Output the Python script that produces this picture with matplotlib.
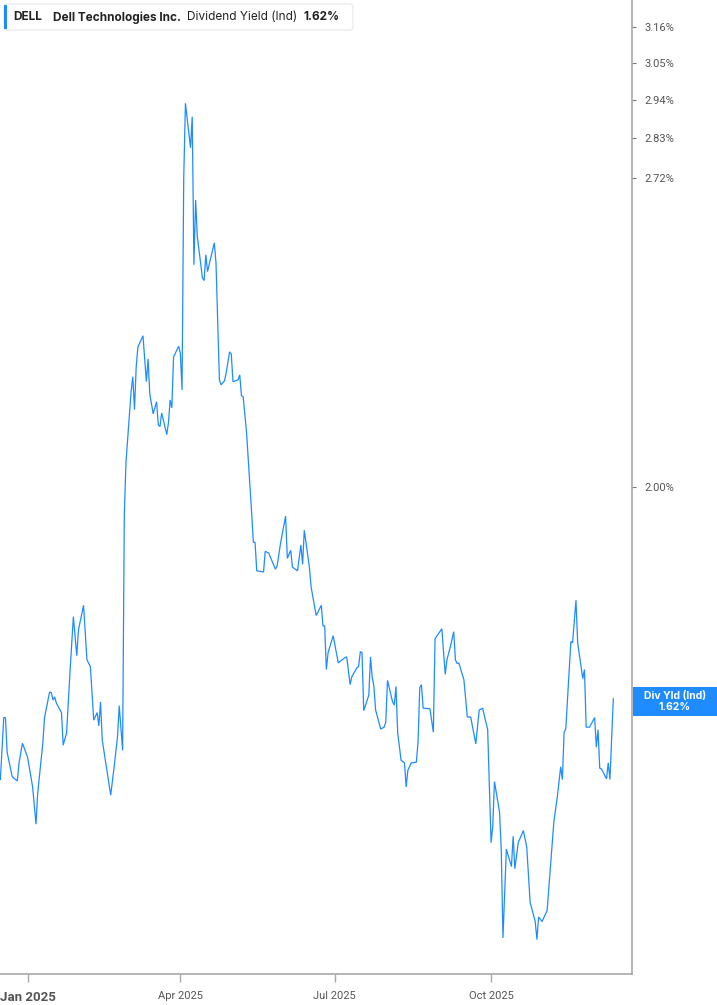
import numpy as np
import pandas as pd
import matplotlib
matplotlib.use('Agg')
import matplotlib.pyplot as plt
from matplotlib.ticker import FixedLocator, FuncFormatter, NullLocator
from matplotlib.patches import FancyBboxPatch, Rectangle

TICKER = "DELL"
COMPANY = "Dell Technologies Inc."
METRIC = "Dividend Yield (Ind)"
LAST_VALUE = 1.62
BADGE_TITLE = "Div Yld (Ind)"

# daily dividend yield (%)
dates = [
    "2024-12-16", "2024-12-18", "2024-12-19", "2024-12-20", "2024-12-23", "2024-12-26", "2024-12-27", "2024-12-29",
    "2025-01-01", "2025-01-04", "2025-01-06", "2025-01-07", "2025-01-10", "2025-01-11", "2025-01-14", "2025-01-15",
    "2025-01-16", "2025-01-17", "2025-01-18", "2025-01-21", "2025-01-22", "2025-01-24", "2025-01-26", "2025-01-28",
    "2025-01-30", "2025-01-31",
    "2025-02-03", "2025-02-05", "2025-02-07", "2025-02-09", "2025-02-11", "2025-02-12", "2025-02-13", "2025-02-14",
    "2025-02-19", "2025-02-21", "2025-02-23", "2025-02-24", "2025-02-26", "2025-02-27", "2025-02-28",
    "2025-03-03", "2025-03-04", "2025-03-05", "2025-03-06", "2025-03-07", "2025-03-10", "2025-03-12", "2025-03-13",
    "2025-03-14", "2025-03-16", "2025-03-18", "2025-03-19", "2025-03-20", "2025-03-21", "2025-03-24", "2025-03-25",
    "2025-03-26", "2025-03-27", "2025-03-28", "2025-03-31",
    "2025-04-01", "2025-04-02", "2025-04-03", "2025-04-04", "2025-04-07", "2025-04-08", "2025-04-09", "2025-04-10",
    "2025-04-11", "2025-04-14", "2025-04-15", "2025-04-16", "2025-04-17", "2025-04-21", "2025-04-22", "2025-04-24",
    "2025-04-25", "2025-04-27", "2025-04-28", "2025-04-30",
    "2025-05-01", "2025-05-02", "2025-05-05", "2025-05-06", "2025-05-07", "2025-05-08", "2025-05-10", "2025-05-13",
    "2025-05-14", "2025-05-15", "2025-05-16", "2025-05-20", "2025-05-21", "2025-05-23", "2025-05-27", "2025-05-28",
    "2025-05-30",
    "2025-06-02", "2025-06-03", "2025-06-05", "2025-06-06", "2025-06-09", "2025-06-11", "2025-06-12", "2025-06-13",
    "2025-06-16", "2025-06-17", "2025-06-20", "2025-06-23", "2025-06-24", "2025-06-25", "2025-06-26", "2025-06-27",
    "2025-06-30",
    "2025-07-03", "2025-07-07", "2025-07-08", "2025-07-10", "2025-07-11", "2025-07-14", "2025-07-15", "2025-07-16",
    "2025-07-17", "2025-07-18", "2025-07-21", "2025-07-22", "2025-07-23", "2025-07-24", "2025-07-25", "2025-07-28",
    "2025-07-30", "2025-07-31",
    "2025-08-01", "2025-08-04", "2025-08-05", "2025-08-06", "2025-08-07", "2025-08-09", "2025-08-11", "2025-08-12",
    "2025-08-13", "2025-08-15", "2025-08-18", "2025-08-19", "2025-08-20", "2025-08-21", "2025-08-22", "2025-08-26",
    "2025-08-28", "2025-08-29",
    "2025-09-02", "2025-09-04", "2025-09-05", "2025-09-07", "2025-09-09", "2025-09-10", "2025-09-11", "2025-09-12",
    "2025-09-15", "2025-09-17", "2025-09-19", "2025-09-22", "2025-09-24", "2025-09-26", "2025-09-29",
    "2025-10-01", "2025-10-02", "2025-10-03", "2025-10-06", "2025-10-07", "2025-10-08", "2025-10-10", "2025-10-13",
    "2025-10-14", "2025-10-15", "2025-10-17", "2025-10-20", "2025-10-22", "2025-10-24", "2025-10-27", "2025-10-28",
    "2025-10-29", "2025-10-31",
    "2025-11-03", "2025-11-05", "2025-11-07", "2025-11-09", "2025-11-11", "2025-11-12", "2025-11-13", "2025-11-14",
    "2025-11-17", "2025-11-18", "2025-11-20", "2025-11-21", "2025-11-24", "2025-11-25", "2025-11-26", "2025-11-28",
    "2025-12-01", "2025-12-02", "2025-12-03", "2025-12-04", "2025-12-05", "2025-12-08", "2025-12-09", "2025-12-10",
    "2025-12-12",
]
yield_pct = [
    1.495, 1.590, 1.590, 1.536, 1.499, 1.493, 1.520, 1.550,
    1.529, 1.484, 1.430, 1.475, 1.550, 1.590, 1.631, 1.630,
    1.618, 1.623, 1.613, 1.598, 1.547, 1.566, 1.663, 1.758,
    1.691, 1.735,
    1.778, 1.684, 1.673, 1.586, 1.598, 1.577, 1.615, 1.555,
    1.472, 1.514, 1.560, 1.609, 1.539, 1.945, 2.051,
    2.199, 2.232, 2.160, 2.254, 2.299, 2.325, 2.221, 2.272,
    2.194, 2.151, 2.177, 2.128, 2.124, 2.153, 2.107, 2.132,
    2.181, 2.164, 2.276, 2.301,
    2.285, 2.203, 2.721, 2.930, 2.803, 2.891, 2.495, 2.661,
    2.566, 2.463, 2.456, 2.520, 2.478, 2.550, 2.500, 2.225,
    2.214, 2.223, 2.241, 2.288,
    2.283, 2.221, 2.225, 2.236, 2.190, 2.188, 2.111, 1.949,
    1.893, 1.893, 1.840, 1.838, 1.876, 1.873, 1.843, 1.849,
    1.891,
    1.943, 1.863, 1.878, 1.847, 1.840, 1.888, 1.852, 1.916,
    1.847, 1.811, 1.760, 1.778, 1.742, 1.742, 1.668, 1.696,
    1.725,
    1.679, 1.688, 1.689, 1.643, 1.656, 1.671, 1.673, 1.698,
    1.696, 1.601, 1.626, 1.689, 1.655, 1.640, 1.602, 1.572,
    1.575, 1.583,
    1.650, 1.615, 1.610, 1.640, 1.566, 1.524, 1.520, 1.484,
    1.509, 1.520, 1.521, 1.552, 1.638, 1.643, 1.605, 1.604,
    1.567, 1.720,
    1.737, 1.660, 1.684, 1.706, 1.732, 1.684, 1.678, 1.679,
    1.651, 1.591, 1.591, 1.549, 1.602, 1.605, 1.571,
    1.404, 1.427, 1.492, 1.447, 1.394, 1.277, 1.395, 1.371,
    1.413, 1.368, 1.404, 1.421, 1.398, 1.323, 1.298, 1.275,
    1.304, 1.298,
    1.312, 1.371, 1.434, 1.469, 1.514, 1.495, 1.567, 1.572,
    1.715, 1.713, 1.787, 1.713, 1.653, 1.668, 1.575, 1.575,
    1.590, 1.544, 1.571, 1.512, 1.511, 1.496, 1.520, 1.495,
    1.62,
]

y_ticks = [2.00, 2.72, 2.83, 2.94, 3.05, 3.16]
x_tick_dates = ["2025-01-01", "2025-04-01", "2025-07-01", "2025-10-01"]
x_tick_labels = ["Jan 2025", "Apr 2025", "Jul 2025", "Oct 2025"]

LINE_BLUE = '#1e8cff'
AXIS_GREY = '#a8a8a8'
TEXT_GREY = '#555555'

W, H = 717, 1005
fig = plt.figure(figsize=(W / 100, H / 100), dpi=100)
fig.patch.set_facecolor('white')

# axes box in pixels: left 0, right 632, top 0, bottom 974
ax = fig.add_axes([0, (H - 974) / H, 632 / W, 974 / H])
ax.plot(pd.to_datetime(dates), yield_pct, color=LINE_BLUE, lw=0.9, solid_joinstyle='miter')

ax.set_yscale('log')
ax.set_ylim(1.232, 3.247)
ax.set_xlim(pd.Timestamp('2024-12-15 19:00'), pd.Timestamp('2025-12-23'))

ax.yaxis.tick_right()
ax.yaxis.set_major_locator(FixedLocator(y_ticks))
ax.yaxis.set_minor_locator(NullLocator())
ax.yaxis.set_major_formatter(FuncFormatter(lambda v, p: f"{v:.2f}%"))

ax.set_xticks(pd.to_datetime(x_tick_dates))
ax.set_xticklabels(x_tick_labels)
ax.xaxis.set_minor_locator(NullLocator())

for side in ['left', 'top']:
    ax.spines[side].set_visible(False)
for side in ['right', 'bottom']:
    ax.spines[side].set_color(AXIS_GREY)
    ax.spines[side].set_linewidth(1.2)

ax.tick_params(axis='y', direction='out', length=3, width=0.8, color='#777777',
               labelsize=8, labelcolor=TEXT_GREY, pad=6)
ax.tick_params(axis='x', direction='out', length=6, width=1, color=AXIS_GREY,
               labelsize=8, labelcolor=TEXT_GREY, pad=6)
for lab in ax.get_yticklabels() + ax.get_xticklabels():
    lab.set_family('Roboto')
first = ax.get_xticklabels()[0]
first.set_fontweight('bold')
first.set_fontsize(9.5)
first.set_va('top')

# header box
def fx(px):
    return px / W

def fy(py):
    return 1 - py / H

hdr = FancyBboxPatch((fx(4), fy(30)), fx(349), 26 / H, boxstyle='round,pad=0,rounding_size=0.004',
                     transform=fig.transFigure, facecolor='white', edgecolor='#e6e6e6', lw=0.8)
fig.patches.append(hdr)
fig.patches.append(Rectangle((fx(4), fy(29)), fx(3), 24 / H, transform=fig.transFigure,
                             facecolor=LINE_BLUE, edgecolor='none'))
hy = fy(17.5)
fig.text(fx(13), hy, TICKER, fontsize=8.5, fontweight='bold', color='#222222', va='center', family='Inter')
fig.text(fx(53), hy, COMPANY, fontsize=8.5, fontweight='bold', color='#222222', va='center', family='Inter')
fig.text(fx(187), hy, METRIC, fontsize=8.5, color='#222222', va='center', family='Inter')
fig.text(fx(304), hy, f"{LAST_VALUE:.2f}%", fontsize=8.5, fontweight='bold', color='#222222',
         va='center', family='Inter')

# last value badge on the right axis
fig.patches.append(Rectangle((fx(633), fy(716)), fx(84), 29 / H, transform=fig.transFigure,
                             facecolor=LINE_BLUE, edgecolor='none'))
fig.text(fx(675), fy(695.5), BADGE_TITLE, fontsize=7.5, fontweight='bold', color='white',
         ha='center', va='center', family='Inter')
fig.text(fx(675), fy(707.5), f"{LAST_VALUE:.2f}%", fontsize=7.5, fontweight='bold', color='white',
         ha='center', va='center', family='Inter')

fig.savefig('out.png', dpi=100)
